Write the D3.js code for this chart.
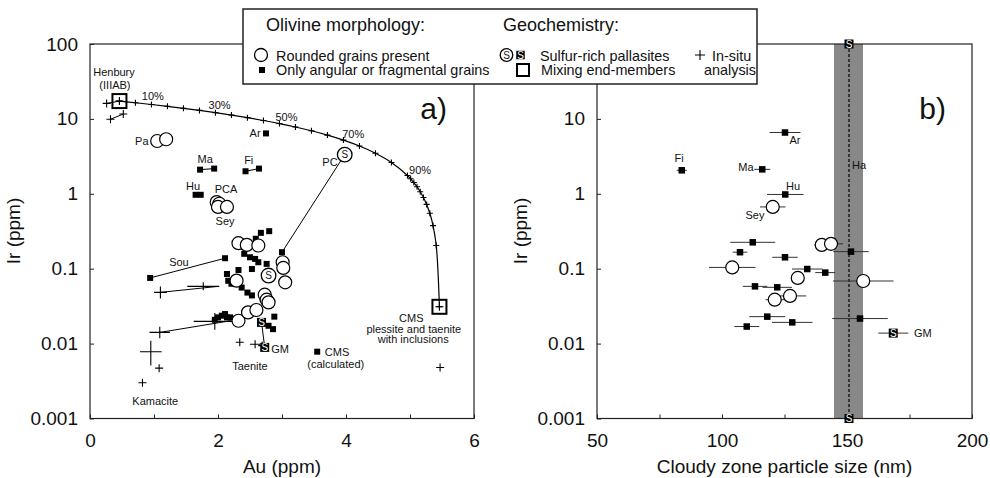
<!DOCTYPE html>
<html>
<head>
<meta charset="utf-8">
<script src="https://cdn.jsdelivr.net/npm/d3@7"></script>
<style>
  body { margin: 0; background: #fff; }
  svg text { font-family: "Liberation Sans", Arial, Helvetica, sans-serif; fill: #111; }
</style>
</head>
<body>
<svg id="chart" width="990" height="478"></svg>
<script>
// ---------- data ----------
var auTicks = [0, 1, 2, 3, 4, 5, 6];
var auLabels = [0, 2, 4, 6];
var irTicks = [0.001, 0.01, 0.1, 1, 10, 100];
var sizeTicks = [50, 75, 100, 125, 150, 175, 200];
var sizeLabels = [50, 100, 150, 200];

// mixing end-members (Au ppm, Ir ppm)
var henbury = [0.46, 17.3];
var cms = [5.46, 0.031];
var mixFractions = [0, 0.05, 0.1, 0.15, 0.2, 0.25, 0.3, 0.35, 0.4, 0.45, 0.5, 0.55, 0.6,
  0.65, 0.7, 0.75, 0.8, 0.85, 0.9, 0.91, 0.92, 0.93, 0.94, 0.95, 0.96, 0.97, 0.98, 0.99, 1];
var mixLabelFractions = [0.1, 0.3, 0.5, 0.7, 0.9];

// panel a: [Au, Ir]
var angularA = [[2.75, 6.4], [1.72, 2.10], [1.94, 2.17], [2.43, 2.0], [2.64, 2.17],
  [1.65, 0.97], [1.73, 0.97], [0.94, 0.0753], [2.11, 0.138], [3.0, 0.166],
  [2.59, 0.251], [2.67, 0.301], [2.80, 0.317], [2.41, 0.158], [2.50, 0.142], [2.58, 0.135],
  [2.63, 0.122], [2.53, 0.099], [2.76, 0.116], [2.14, 0.085], [2.32, 0.096], [2.16, 0.069],
  [2.21, 0.063], [2.37, 0.056], [2.46, 0.048], [2.53, 0.044], [2.70, 0.040],
  [1.95, 0.0208], [2.0, 0.0224], [2.06, 0.0236], [2.11, 0.0248], [2.14, 0.0224], [2.19, 0.0224],
  [2.88, 0.0229], [2.86, 0.0156], [2.79, 0.0173], [3.55, 0.0078]];
var roundedA = [[1.05, 5.07], [1.19, 5.35], [1.98, 0.774], [2.02, 0.736], [2.00, 0.668], [2.14, 0.668],
  [2.32, 0.219], [2.45, 0.208], [2.63, 0.204], [3.01, 0.122], [3.02, 0.1025], [3.05, 0.0658],
  [2.29, 0.0693], [2.73, 0.045], [2.76, 0.0386], [2.79, 0.0355], [2.32, 0.0202], [2.47, 0.0261],
  [2.60, 0.0281]];
var sulfurRoundA = [[3.98, 3.33], [2.79, 0.081]];
var sulfurAngularA = [[2.68, 0.0192], [2.73, 0.0089]];
// in-situ: [Au, Ir, Au error, Ir low, Ir high]
var insituA = [[0.26, 16.1], [0.32, 9.9], [0.52, 11.6],
  [1.10, 0.0483, 0.10, 0.040, 0.058], [1.77, 0.0581, 0.25],
  [1.09, 0.0141, 0.16, 0.0118, 0.0168], [1.95, 0.0198, 0.33, 0.0153, 0.0256],
  [0.95, 0.0078, 0.17, 0.0051, 0.0109], [1.08, 0.0047], [0.82, 0.0030],
  [2.34, 0.0104], [2.58, 0.0098, 0.08], [2.69, 0.0094], [5.47, 0.0048]];
var tiesA = [[[0.26, 16.1], [0.46, 17.3]], [[0.32, 9.9], [0.52, 11.6]],
  [[1.10, 0.0483], [2.0, 0.058]], [[1.09, 0.0141], [2.2, 0.0202]],
  [[1.72, 2.10], [1.94, 2.17]], [[2.43, 2.0], [2.64, 2.17]], [[1.65, 0.97], [1.73, 0.97]],
  [[0.94, 0.0753], [2.11, 0.138]], [[3.98, 3.33], [3.0, 0.166]], [[2.68, 0.0192], [2.73, 0.0089]]];
var labelsA = [["Henbury", 0.375, 42.5], ["(IIIAB)", 0.39, 28.2], ["Pa", 0.81, 5.02],
  ["Ar", 2.58, 6.44], ["Ma", 1.80, 2.89], ["Fi", 2.48, 2.80], ["Hu", 1.61, 1.26],
  ["PCA", 2.125, 1.15], ["Sey", 2.11, 0.428], ["PC", 3.75, 2.63], ["Sou", 1.39, 0.121],
  ["GM", 2.97, 0.0085], ["Taenite", 2.5, 0.00505], ["Kamacite", 1.02, 0.00171],
  ["CMS", 5.02, 0.0221], ["plessite and taenite", 5.06, 0.0158], ["with inclusions", 5.05, 0.0114],
  ["CMS", 3.86, 0.00776], ["(calculated)", 3.84, 0.00537]];

// panel b: [size nm, error nm, Ir]
var angularB = [[125.2, 6.2, 6.58], [83.9, 2, 2.06], [116.1, 3.2, 2.12], [125.3, 7.3, 0.98],
  [151.6, 7.1, 0.169], [112.3, 9, 0.225], [107.2, 2.9, 0.166], [125.2, 5.1, 0.142],
  [134.1, 6.1, 0.099], [141.3, 4, 0.0887], [113.2, 4.9, 0.0581], [122.1, 5.9, 0.0564],
  [118.1, 7.2, 0.0229], [128.1, 8.1, 0.0192], [109.9, 5, 0.0169], [155.2, 11.1, 0.0216]];
var roundedB = [[120.3, 5.1, 0.668], [139.9, 3, 0.208], [143.6, 4.8, 0.215], [104.1, 9.3, 0.104],
  [130.3, 2.3, 0.0753], [156.5, 12.1, 0.0685], [127.2, 6.5, 0.0433], [121.1, 3.7, 0.0386]];
var sulfurAngularB = [[168.5, 6, 0.0138]];
var haRange = [144.8, 156.4];
var haSize = 150.8;
var haMarks = [100, 0.001];
var labelsB = [["Ar", 129.2, 5.19], ["Fi", 82.8, 2.98], ["Ma", 109.6, 2.25], ["Hu", 128.4, 1.29],
  ["Sey", 113.2, 0.514], ["GM", 180.3, 0.01396]];

// ---------- chart ----------
var svg = d3.select("#chart");

var xA = d3.scaleLinear().domain([0, 6]).range([90, 474]);
var xB = d3.scaleLinear().domain([50, 200]).range([597, 972]);
var y = d3.scaleLog().domain([0.001, 100]).range([418.5, 44]);

// irHidden: tick labels that sit under the legend box
function drawFrame(x, ticks, labels, title, irHidden) {
  var g = svg.append("g");
  var r = x.range();
  g.append("rect").attr("x", r[0]).attr("y", 44).attr("width", r[1] - r[0]).attr("height", 374.5)
    .attr("fill", "none").attr("stroke", "#222").attr("stroke-width", 1.2);

  var xAxis = d3.axisBottom(x).tickValues(ticks).tickSizeInner(-4).tickSizeOuter(0).tickPadding(15)
    .tickFormat(function (d) { return labels.indexOf(d) >= 0 ? d : ""; });
  var gx = g.append("g").attr("transform", "translate(0,418.5)").call(xAxis);
  var yAxis = d3.axisLeft(y).tickValues(irTicks).tickSizeInner(-4).tickSizeOuter(0).tickPadding(12)
    .tickFormat(function (d) {
      if (irHidden.indexOf(d) >= 0) return "";
      return d >= 1 ? d3.format("d")(d) : String(d);
    });
  var gy = g.append("g").attr("transform", "translate(" + r[0] + ",0)").call(yAxis);
  [gx, gy].forEach(function (a) {
    a.select(".domain").remove();
    a.selectAll("line").attr("stroke", "#222");
    a.selectAll("text").style("font-size", "19px").attr("fill", "#111");
  });

  g.append("text").attr("x", (r[0] + r[1]) / 2).attr("y", 473).attr("text-anchor", "middle")
    .style("font-size", "19px").text(title);
  g.append("text").attr("transform", "translate(" + (r[0] - 70) + ",231) rotate(-90)")
    .attr("text-anchor", "middle").style("font-size", "19px").text("Ir (ppm)");
  return g;
}

function squares(g, pts, fx, size) {
  g.selectAll(null).data(pts).enter().append("rect")
    .attr("x", function (d) { return fx(d)[0] - size / 2; })
    .attr("y", function (d) { return fx(d)[1] - size / 2; })
    .attr("width", size).attr("height", size).attr("fill", "#000");
}
function circles(g, pts, fx, r) {
  g.selectAll(null).data(pts).enter().append("circle")
    .attr("cx", function (d) { return fx(d)[0]; })
    .attr("cy", function (d) { return fx(d)[1]; })
    .attr("r", r).attr("fill", "#fff").attr("stroke", "#000").attr("stroke-width", 1.2);
}
function sCircle(g, px, py, r) {
  g.append("circle").attr("cx", px).attr("cy", py).attr("r", r)
    .attr("fill", "#fff").attr("stroke", "#000").attr("stroke-width", 1.3);
  g.append("text").attr("x", px).attr("y", py + 3.5).attr("text-anchor", "middle")
    .style("font-size", "10px").text("S");
}
function sSquare(g, px, py, s) {
  g.append("rect").attr("x", px - s / 2).attr("y", py - s / 2).attr("width", s).attr("height", s).attr("fill", "#000");
  g.append("text").attr("x", px).attr("y", py + 3.5).attr("text-anchor", "middle")
    .style("font-size", "10px").style("fill", "#fff").text("S");
}
function plus(g, px, py, s) {
  g.append("path").attr("d", "M" + (px - s) + "," + py + "H" + (px + s) + "M" + px + "," + (py - s) + "V" + (py + s))
    .attr("stroke", "#000").attr("stroke-width", 1.1).attr("fill", "none");
}

// ----- panel a -----
drawFrame(xA, auTicks, auLabels, "Au (ppm)", []);
var ga = svg.append("g");
var pa = function (d) { return [xA(d[0]), y(d[1])]; };

// linear two-component mixing between the end-members
function mix(f) { return [henbury[0] * (1 - f) + cms[0] * f, henbury[1] * (1 - f) + cms[1] * f]; }
var mixPts = mixFractions.map(mix);
ga.append("path").datum(mixPts)
  .attr("d", d3.line().x(function (d) { return xA(d[0]); }).y(function (d) { return y(d[1]); }).curve(d3.curveCatmullRom))
  .attr("fill", "none").attr("stroke", "#000").attr("stroke-width", 1.2);
mixPts.forEach(function (d) { plus(ga, xA(d[0]), y(d[1]), 3); });
mixLabelFractions.forEach(function (f) {
  var p = mix(f);
  ga.append("text").attr("x", xA(p[0]) + 14 * f).attr("y", y(p[1]) - 5 + 4 * f)
    .attr("text-anchor", "middle").style("font-size", "11px").text(Math.round(f * 100) + "%");
});

tiesA.forEach(function (t) {
  ga.append("line").attr("x1", xA(t[0][0])).attr("y1", y(t[0][1])).attr("x2", xA(t[1][0])).attr("y2", y(t[1][1]))
    .attr("stroke", "#000").attr("stroke-width", 1);
});

insituA.forEach(function (d) {
  var px = xA(d[0]), py = y(d[1]);
  var hx = d[2] ? Math.max(4, xA(d[0] + d[2]) - px) : 4;
  var top = d[4] ? Math.min(py - 4, y(d[4])) : py - 4;
  var bot = d[3] ? Math.max(py + 4, y(d[3])) : py + 4;
  ga.append("path").attr("d", "M" + (px - hx) + "," + py + "H" + (px + hx) + "M" + px + "," + top + "V" + bot)
    .attr("stroke", "#000").attr("stroke-width", 1.1).attr("fill", "none");
});

squares(ga, angularA, pa, 6);
circles(ga, roundedA, pa, 6.5);
sulfurRoundA.forEach(function (d) { sCircle(ga, xA(d[0]), y(d[1]), 7.3); });
sulfurAngularA.forEach(function (d) { sSquare(ga, xA(d[0]), y(d[1]), 9); });

[henbury, cms].forEach(function (d) {
  var px = xA(d[0]), py = y(d[1]);
  ga.append("rect").attr("x", px - 7).attr("y", py - 7).attr("width", 14).attr("height", 14)
    .attr("fill", "none").attr("stroke", "#000").attr("stroke-width", 2);
  plus(ga, px, py, 4);
});

labelsA.forEach(function (l) {
  ga.append("text").attr("x", xA(l[1])).attr("y", y(l[2]) + 4).attr("text-anchor", "middle")
    .style("font-size", "11px").text(l[0]);
});
ga.append("text").attr("x", 447).attr("y", 119).attr("text-anchor", "end")
  .style("font-size", "30px").text("a)");

// ----- panel b -----
var gb0 = svg.append("g");
gb0.append("rect").attr("x", xB(haRange[0])).attr("y", 44).attr("width", xB(haRange[1]) - xB(haRange[0]))
  .attr("height", 374.5).attr("fill", "#888");
drawFrame(xB, sizeTicks, sizeLabels, "Cloudy zone particle size (nm)", [100]);
var gb = svg.append("g");
gb.append("line").attr("x1", xB(haSize)).attr("x2", xB(haSize)).attr("y1", 44).attr("y2", 418.5)
  .attr("stroke", "#000").attr("stroke-width", 1.2).attr("stroke-dasharray", "3,2");
gb.append("text").attr("x", xB(haSize) + 3).attr("y", y(2.4) + 4).style("font-size", "11px").text("Ha");

var pb = function (d) { return [xB(d[0]), y(d[2])]; };
angularB.concat(roundedB, sulfurAngularB).forEach(function (d) {
  gb.append("line").attr("x1", xB(d[0] - d[1])).attr("x2", xB(d[0] + d[1]))
    .attr("y1", y(d[2])).attr("y2", y(d[2])).attr("stroke", "#333").attr("stroke-width", 1);
});
squares(gb, angularB, pb, 6.5);
circles(gb, roundedB, pb, 6.5);
sulfurAngularB.forEach(function (d) { sSquare(gb, xB(d[0]), y(d[2]), 9); });
haMarks.forEach(function (v) { sSquare(gb, xB(haSize), y(v), 9); });
labelsB.forEach(function (l) {
  gb.append("text").attr("x", xB(l[1])).attr("y", y(l[2]) + 4).attr("text-anchor", "middle")
    .style("font-size", "11px").text(l[0]);
});
gb.append("text").attr("x", 946).attr("y", 119).attr("text-anchor", "end")
  .style("font-size", "30px").text("b)");

// ----- legend -----
var lg = svg.append("g");
lg.append("rect").attr("x", 243).attr("y", 9).attr("width", 514).attr("height", 75)
  .attr("fill", "#fff").attr("stroke", "#222").attr("stroke-width", 1.5);
lg.append("text").attr("x", 266).attr("y", 31).style("font-size", "18px").text("Olivine morphology:");
lg.append("text").attr("x", 503).attr("y", 31).style("font-size", "18px").text("Geochemistry:");
lg.append("circle").attr("cx", 261).attr("cy", 55).attr("r", 6.5)
  .attr("fill", "#fff").attr("stroke", "#000").attr("stroke-width", 1.3);
lg.append("text").attr("x", 276).attr("y", 60.5).style("font-size", "14.4px").text("Rounded grains present");
lg.append("rect").attr("x", 259).attr("y", 67).attr("width", 6).attr("height", 6).attr("fill", "#000");
lg.append("text").attr("x", 276).attr("y", 75).style("font-size", "14.4px").text("Only angular or fragmental grains");
sCircle(lg, 506.5, 55, 6.3);
sSquare(lg, 520.5, 55, 8.5);
lg.append("text").attr("x", 540).attr("y", 60.5).style("font-size", "14.4px").text("Sulfur-rich pallasites");
lg.append("rect").attr("x", 517).attr("y", 64).attr("width", 12).attr("height", 12)
  .attr("fill", "none").attr("stroke", "#000").attr("stroke-width", 2);
lg.append("text").attr("x", 541).attr("y", 75).style("font-size", "14.4px").text("Mixing end-members");
plus(lg, 700, 55, 5);
lg.append("text").attr("x", 712).attr("y", 60.5).style("font-size", "14.4px").text("In-situ");
lg.append("text").attr("x", 704).attr("y", 75).style("font-size", "14.4px").text("analysis");
</script>
</body>
</html>
